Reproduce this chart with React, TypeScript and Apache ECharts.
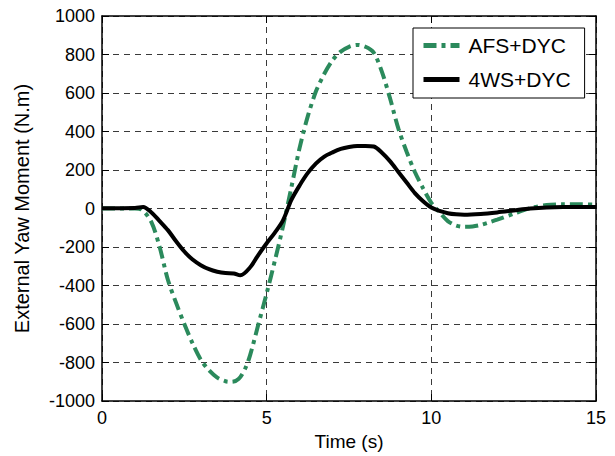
import React, { useEffect, useRef } from "react";
import * as echarts from "echarts";

const timeAFS = [0, 1.0, 1.2, 1.5, 1.75, 2.0, 2.25, 2.5, 2.75, 3.0, 3.25, 3.5, 3.75, 3.95, 4.15, 4.35, 4.5, 4.75, 5.0, 5.25, 5.5, 5.75, 6.0, 6.25, 6.5, 6.75, 7.0, 7.25, 7.5, 7.75, 8.0, 8.25, 8.5, 8.75, 9.0, 9.25, 9.5, 9.75, 10.0, 10.25, 10.5, 10.75, 11.0, 11.25, 11.5, 11.75, 12.0, 12.5, 13.0, 13.5, 14.0, 14.5, 15.0];
const valuesAFS = [0, 0, -5, -70, -200, -370, -490, -600, -700, -785, -840, -878, -897, -900, -885, -830, -760, -600, -440, -270, -90, 110, 315, 480, 610, 700, 770, 815, 840, 850, 840, 810, 710, 570, 415, 295, 190, 105, 30, -20, -65, -88, -95, -93, -85, -72, -58, -27, 2, 18, 22, 22, 20];

const timeWS = [0, 1.0, 1.25, 1.5, 1.75, 2.0, 2.25, 2.5, 2.75, 3.0, 3.25, 3.5, 3.75, 4.0, 4.2, 4.5, 4.75, 5.0, 5.25, 5.5, 5.75, 6.0, 6.25, 6.5, 6.75, 7.0, 7.25, 7.5, 7.75, 8.0, 8.25, 8.5, 8.75, 9.0, 9.25, 9.5, 9.75, 10.0, 10.25, 10.5, 10.75, 11.0, 11.5, 12.0, 12.5, 13.0, 13.5, 14.0, 15.0];
const valuesWS = [2, 3, 8, -20, -65, -112, -170, -223, -265, -294, -315, -328, -335, -337, -347, -305, -240, -180, -125, -60, 45, 120, 185, 235, 270, 292, 310, 320, 325, 325, 322, 290, 245, 190, 135, 80, 38, 5, -12, -24, -30, -32, -28, -20, -10, 0, 6, 8, 8];

const xTicks = [0, 5, 10, 15];
const yMin = -1000;
const yMax = 1000;
const yStep = 200;

const seriesNames = ["AFS+DYC", "4WS+DYC"];

export default function App() {
  const ref = useRef<HTMLDivElement>(null);
  useEffect(() => {
    if (!ref.current) return;
    const chart = echarts.init(ref.current, undefined, { renderer: "svg" });
    const font = "'Liberation Sans', Arial, Helvetica, sans-serif";
    const gridLine = { show: true, lineStyle: { color: "#3a3a3a", type: [6, 5] as any, width: 1 } };
    const axisLineStyle = { show: true, onZero: false, lineStyle: { color: "#000", width: 1.5 } };
    const tick = { show: true, inside: true, length: 7, lineStyle: { color: "#000" } };
    chart.setOption({
      animation: false,
      backgroundColor: "#fff",
      grid: { left: 102, right: 19, top: 16, bottom: 47, containLabel: false },
      legend: {
        orient: "vertical",
        left: 413,
        top: 28,
        data: seriesNames,
        backgroundColor: "#fff",
        borderColor: "#000",
        borderWidth: 1,
        borderRadius: 0,
        padding: [7, 14, 8, 8],
        itemGap: 13,
        itemWidth: 36,
        itemHeight: 14,
        itemStyle: { color: "rgba(0,0,0,0)", borderWidth: 0, opacity: 0 },
        lineStyle: { width: 5 },
        textStyle: { fontFamily: font, fontSize: 21, color: "#000", padding: [0, 0, 0, 4] },
      },
      xAxis: [
        {
          type: "value",
          min: 0,
          max: 15,
          interval: 5,
          name: "Time (s)",
          nameLocation: "middle",
          nameGap: 28,
          nameTextStyle: { fontFamily: font, fontSize: 19, color: "#000" },
          axisLine: axisLineStyle,
          axisTick: tick,
          axisLabel: { fontFamily: font, fontSize: 18, color: "#000", margin: 8,
            formatter: (v: number) => (xTicks.includes(v) ? String(v) : "") },
          splitLine: gridLine,
        },
        {
          type: "value",
          position: "top",
          min: 0,
          max: 15,
          interval: 5,
          axisLine: axisLineStyle,
          axisTick: tick,
          axisLabel: { show: false },
          splitLine: { show: false },
        },
      ],
      yAxis: [
        {
          type: "value",
          min: yMin,
          max: yMax,
          interval: yStep,
          name: "External Yaw Moment (N.m)",
          nameLocation: "middle",
          nameGap: 70,
          nameTextStyle: { fontFamily: font, fontSize: 20, color: "#000" },
          axisLine: axisLineStyle,
          axisTick: tick,
          axisLabel: { fontFamily: font, fontSize: 18, color: "#000", margin: 7,
            formatter: (v: number) => String(v) },
          splitLine: gridLine,
        },
        {
          type: "value",
          position: "right",
          min: yMin,
          max: yMax,
          interval: yStep,
          axisLine: axisLineStyle,
          axisTick: tick,
          axisLabel: { show: false },
          splitLine: { show: false },
        },
      ],
      series: [
        {
          name: seriesNames[0],
          type: "line",
          data: timeAFS.map((t, i) => [t, valuesAFS[i]]),
          smooth: 0.3,
          showSymbol: false,
          symbol: "none",
          z: 2,
          lineStyle: { color: "#2b8a5c", width: 4, type: [13, 5, 4, 5] as any },
          itemStyle: { color: "#2b8a5c" },
        },
        {
          name: seriesNames[1],
          type: "line",
          data: timeWS.map((t, i) => [t, valuesWS[i]]),
          smooth: 0.3,
          showSymbol: false,
          symbol: "none",
          z: 3,
          lineStyle: { color: "#000", width: 4, type: "solid" },
          itemStyle: { color: "#000" },
        },
      ],
    });
    return () => chart.dispose();
  }, []);
  return <div ref={ref} style={{ width: 615, height: 456, position: "absolute", left: 0, top: 0 }} />;
}
